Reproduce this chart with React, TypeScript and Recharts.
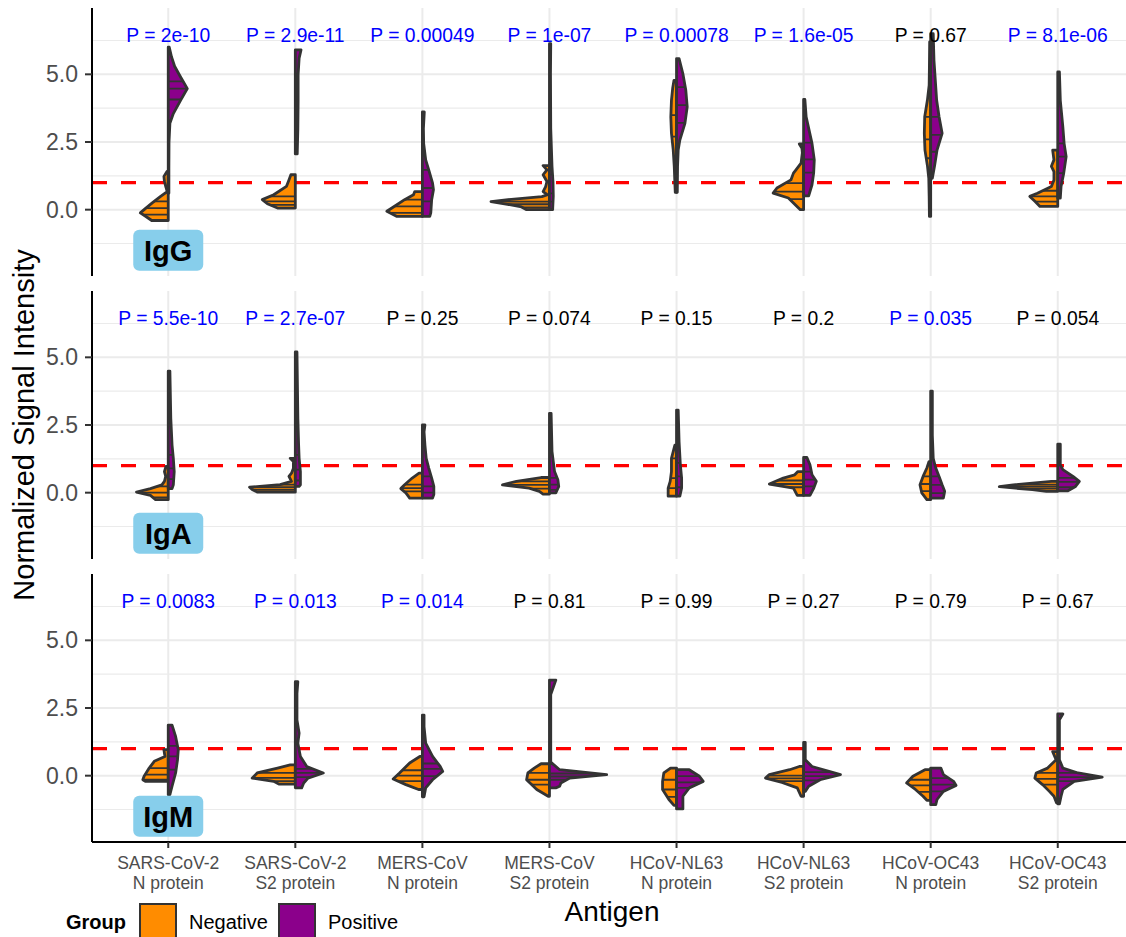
import { CartesianGrid, ReferenceLine, Scatter, ScatterChart, XAxis, YAxis } from 'recharts';

const antigenVirus = ['SARS-CoV-2', 'SARS-CoV-2', 'MERS-CoV', 'MERS-CoV', 'HCoV-NL63', 'HCoV-NL63', 'HCoV-OC43', 'HCoV-OC43'];
const antigenProtein = ['N protein', 'S2 protein', 'N protein', 'S2 protein', 'N protein', 'S2 protein', 'N protein', 'S2 protein'];
const antigenPositions = [1, 2, 3, 4, 5, 6, 7, 8];

const iggP = ['2e-10', '2.9e-11', '0.00049', '1e-07', '0.00078', '1.6e-05', '0.67', '8.1e-06'];
const igaP = ['5.5e-10', '2.7e-07', '0.25', '0.074', '0.15', '0.2', '0.035', '0.054'];
const igmP = ['0.0083', '0.013', '0.014', '0.81', '0.99', '0.27', '0.79', '0.67'];

// half-violin outlines: [signal, half width in antigen units], bottom to top
const iggNegative = [
  [[-0.4, 0.13], [-0.27, 0.17], [-0.12, 0.22], [0, 0.19], [0.25, 0.126], [0.49, 0.06], [0.67, 0.008], [0.86, 0.02], [1.05, 0.03], [1.23, 0.034], [1.41, 0.01]],
  [[0.06, 0.14], [0.22, 0.22], [0.37, 0.26], [0.55, 0.17], [0.86, 0.07], [1.1, 0.05], [1.29, 0.035]],
  [[-0.25, 0.2], [-0.06, 0.28], [0.06, 0.24], [0.37, 0.14], [0.55, 0.07], [0.67, 0.06]],
  [[0, 0.18], [0.1, 0.22], [0.2, 0.33], [0.3, 0.46], [0.38, 0.3], [0.48, 0.06], [0.55, 0.015], [0.67, 0.05], [0.85, 0.03], [1.04, 0.02], [1.29, 0.05], [1.47, 0.02], [1.63, 0.05]],
  [[0.64, 0.01], [0.98, 0.013], [1.6, 0.018], [2.2, 0.026], [2.82, 0.04], [3.43, 0.045], [4.04, 0.04], [4.5, 0.03], [4.78, 0.02]],
  [[0, 0.026], [0.25, 0.08], [0.43, 0.12], [0.61, 0.24], [0.8, 0.21], [1.1, 0.1], [1.35, 0.08], [1.47, 0.06], [1.72, 0.02], [2.1, 0.01], [2.27, 0.013], [2.43, 0.034]],
  [[-0.25, 0.01], [0.5, 0.012], [1.16, 0.015], [1.6, 0.025], [2.2, 0.045], [2.82, 0.05], [3.43, 0.047], [4.04, 0.026], [4.6, 0.012], [5.27, 0.01], [6.2, 0.008]],
  [[0.12, 0.14], [0.31, 0.18], [0.49, 0.22], [0.61, 0.16], [0.86, 0.05], [1.1, 0.03], [1.41, 0.03], [1.6, 0.05], [1.84, 0.03], [2.2, 0.04]],
];
const iggPositive = [
  [[0.61, 0.005], [1.5, 0.005], [2.5, 0.006], [3.19, 0.013], [3.55, 0.04], [4.04, 0.097], [4.47, 0.15], [4.9, 0.097], [5.3, 0.05], [5.64, 0.026], [6.0, 0.008]],
  [[2.06, 0.015], [3.0, 0.02], [4.0, 0.022], [5.0, 0.022], [5.6, 0.03], [5.9, 0.045]],
  [[-0.25, 0.058], [-0.12, 0.066], [0.37, 0.073], [0.74, 0.087], [0.98, 0.08], [1.47, 0.05], [1.84, 0.026], [2.45, 0.01], [3.0, 0.008], [3.61, 0.015]],
  [[0, 0.025], [0.5, 0.03], [1.0, 0.028], [1.6, 0.02], [3.0, 0.01], [5.0, 0.008], [6.13, 0.01]],
  [[0.64, 0.006], [1.6, 0.008], [2.2, 0.013], [2.57, 0.026], [3.19, 0.066], [3.8, 0.084], [4.41, 0.073], [5.02, 0.05], [5.58, 0.02]],
  [[0.51, 0.04], [0.92, 0.066], [1.35, 0.079], [1.84, 0.084], [2.45, 0.066], [3.43, 0.02], [4.07, 0.01]],
  [[1.16, 0.013], [1.6, 0.03], [2.2, 0.05], [2.82, 0.09], [3.43, 0.066], [4.04, 0.047], [5.51, 0.026], [6.5, 0.02]],
  [[0.43, 0.02], [0.86, 0.026], [1.35, 0.047], [1.96, 0.066], [2.45, 0.05], [3.06, 0.04], [4.04, 0.02], [5.09, 0.013]],
];
const igaNegative = [
  [[-0.26, 0.1], [-0.1, 0.14], [0.02, 0.25], [0.15, 0.14], [0.29, 0.05], [0.42, 0.03], [0.6, 0.02], [0.78, 0.03], [0.97, 0.018]],
  [[0.02, 0.3], [0.12, 0.34], [0.2, 0.36], [0.3, 0.12], [0.42, 0.03], [0.6, 0.05], [0.72, 0.03], [0.9, 0.015], [1.15, 0.015], [1.27, 0.04]],
  [[-0.2, 0.1], [-0.01, 0.13], [0.15, 0.17], [0.29, 0.14], [0.54, 0.08], [0.72, 0.026]],
  [[-0.05, 0.05], [0.05, 0.08], [0.17, 0.16], [0.29, 0.37], [0.42, 0.26], [0.56, 0.066]],
  [[-0.13, 0.066], [0.17, 0.066], [0.42, 0.05], [0.78, 0.04], [1.27, 0.04], [1.76, 0.013]],
  [[-0.1, 0.05], [0.17, 0.08], [0.32, 0.27], [0.54, 0.16], [0.66, 0.07], [0.78, 0.045]],
  [[-0.26, 0.03], [-0.01, 0.07], [0.29, 0.084], [0.6, 0.06], [0.91, 0.03], [1.15, 0.013]],
  [[0.05, 0.09], [0.11, 0.2], [0.22, 0.46], [0.29, 0.35], [0.42, 0.05]],
];
const igaPositive = [
  [[0.15, 0.03], [0.29, 0.04], [0.78, 0.047], [1.27, 0.04], [1.76, 0.03], [2.75, 0.02], [4.49, 0.013]],
  [[0.23, 0.03], [0.29, 0.04], [0.78, 0.04], [1.27, 0.03], [1.76, 0.026], [2.75, 0.02], [5.2, 0.013]],
  [[-0.2, 0.08], [-0.07, 0.09], [0.23, 0.09], [0.54, 0.073], [0.91, 0.05], [1.27, 0.03], [1.76, 0.02], [2.25, 0.013], [2.5, 0.02]],
  [[-0.01, 0.05], [0.23, 0.073], [0.48, 0.066], [0.78, 0.04], [1.52, 0.02], [2.93, 0.013]],
  [[-0.13, 0.026], [0.17, 0.04], [0.54, 0.04], [1.03, 0.03], [1.89, 0.02], [3.05, 0.013]],
  [[-0.1, 0.05], [0.17, 0.08], [0.42, 0.1], [0.66, 0.066], [1.03, 0.05], [1.3, 0.026]],
  [[-0.2, 0.1], [0.05, 0.11], [0.29, 0.09], [0.6, 0.066], [0.91, 0.04], [1.27, 0.02], [2.13, 0.013], [3.75, 0.013]],
  [[0.07, 0.08], [0.23, 0.14], [0.42, 0.17], [0.6, 0.12], [0.85, 0.04], [1.03, 0.02], [1.79, 0.02]],
];
const igmNegative = [
  [[-0.21, 0.18], [-0.15, 0.2], [-0.02, 0.19], [0.28, 0.15], [0.53, 0.11], [0.71, 0.026], [0.96, 0.034]],
  [[-0.31, 0.13], [-0.21, 0.17], [-0.09, 0.34], [0.1, 0.3], [0.28, 0.14], [0.4, 0.04]],
  [[-0.51, 0.03], [-0.33, 0.13], [-0.12, 0.23], [0.1, 0.18], [0.47, 0.1], [0.71, 0.02]],
  [[-0.76, 0.01], [-0.51, 0.1], [-0.15, 0.18], [0.1, 0.17], [0.28, 0.12], [0.44, 0.066]],
  [[-1.1, 0.02], [-0.88, 0.06], [-0.51, 0.11], [-0.21, 0.11], [0.1, 0.1], [0.28, 0.047]],
  [[-0.76, 0.02], [-0.45, 0.05], [-0.25, 0.17], [-0.09, 0.3], [0.04, 0.27], [0.22, 0.11], [0.34, 0.034]],
  [[-0.91, 0.03], [-0.76, 0.06], [-0.51, 0.12], [-0.27, 0.19], [-0.02, 0.14], [0.22, 0.045]],
  [[-1.0, 0.01], [-0.76, 0.03], [-0.58, 0.066], [-0.33, 0.12], [-0.09, 0.18], [0.1, 0.17], [0.28, 0.08], [0.59, 0.013], [0.89, 0.04]],
];
const igmPositive = [
  [[-0.7, 0.013], [-0.39, 0.03], [0.1, 0.058], [0.59, 0.073], [0.96, 0.079], [1.45, 0.058], [1.87, 0.03]],
  [[-0.45, 0.05], [-0.27, 0.066], [-0.09, 0.1], [0.1, 0.22], [0.34, 0.09], [0.71, 0.04], [1.2, 0.02], [1.57, 0.03], [2.06, 0.013], [3.04, 0.013], [3.47, 0.02]],
  [[-0.78, 0.013], [-0.45, 0.026], [-0.15, 0.08], [0.16, 0.16], [0.34, 0.14], [0.71, 0.08], [1.2, 0.026], [1.81, 0.013], [2.24, 0.013]],
  [[-0.45, 0.05], [-0.39, 0.08], [-0.27, 0.09], [-0.09, 0.16], [0.04, 0.45], [0.22, 0.08], [0.5, 0.01], [3.0, 0.01], [3.53, 0.05]],
  [[-1.23, 0.05], [-0.76, 0.05], [-0.45, 0.1], [-0.21, 0.21], [-0.02, 0.18], [0.22, 0.1]],
  [[-0.58, 0.013], [-0.39, 0.04], [-0.15, 0.13], [0.04, 0.29], [0.16, 0.2], [0.34, 0.066], [0.59, 0.013], [1.23, 0.013]],
  [[-1.07, 0.04], [-0.88, 0.05], [-0.58, 0.1], [-0.36, 0.2], [-0.21, 0.18], [0.04, 0.1], [0.28, 0.08]],
  [[-1.04, 0.013], [-0.76, 0.026], [-0.51, 0.04], [-0.21, 0.13], [-0.05, 0.35], [0.1, 0.16], [0.28, 0.04], [0.59, 0.013], [2.06, 0.013], [2.28, 0.04]],
];

// 25/50/75% lines drawn inside each half
const iggNegativeQuartiles = [[-0.18, 0.06, 0.31], [0.18, 0.31, 0.49], [-0.12, 0.12, 0.37], [0.08, 0.2, 0.3], [1.84, 2.7, 3.49], [0.39, 0.67, 0.98], [1.9, 2.6, 3.43], [0.3, 0.49, 0.7]];
const iggPositiveQuartiles = [[4.07, 4.47, 4.74], [3.25, 4.29, 5.02], [0.31, 0.8, 1.47], [0.3, 0.6, 1.3], [3.21, 3.86, 4.53], [1.37, 1.86, 2.48], [2.14, 2.76, 3.43], [1.35, 1.96, 2.45]];
const igaNegativeQuartiles = [[-0.17, 0, 0.23], [0.1, 0.2, 0.3], [0.05, 0.17, 0.3], [0.15, 0.29, 0.42], [0.17, 0.54, 1.27], [0.2, 0.32, 0.45], [0.06, 0.32, 0.6], [0.15, 0.22, 0.3]];
const igaPositiveQuartiles = [[0.5, 0.9, 1.4], [0.45, 0.85, 1.4], [0, 0.23, 0.6], [0.1, 0.3, 0.55], [0.2, 0.6, 1.1], [0.23, 0.48, 0.78], [-0.02, 0.29, 0.6], [0.2, 0.4, 0.55]];
const igmNegativeQuartiles = [[-0.15, 0.04, 0.28], [-0.2, -0.08, 0.1], [-0.2, 0, 0.2], [-0.33, -0.15, 0.1], [-0.78, -0.51, -0.15], [-0.2, -0.1, 0], [-0.6, -0.36, -0.15], [-0.33, -0.12, 0.1]];
const igmPositiveQuartiles = [[0.22, 0.71, 1.1], [-0.05, 0.1, 0.25], [-0.02, 0.25, 0.45], [-0.15, -0.03, 0.08], [-0.45, -0.25, -0.02], [-0.17, -0.02, 0.13], [-0.58, -0.33, -0.09], [-0.2, -0.05, 0.1]];

const panels = [
  { name: 'IgG', top: 8, neg: iggNegative, pos: iggPositive, negQ: iggNegativeQuartiles, posQ: iggPositiveQuartiles, p: iggP },
  { name: 'IgA', top: 291, neg: igaNegative, pos: igaPositive, negQ: igaNegativeQuartiles, posQ: igaPositiveQuartiles, p: igaP },
  { name: 'IgM', top: 574, neg: igmNegative, pos: igmPositive, negQ: igmNegativeQuartiles, posQ: igmPositiveQuartiles, p: igmP },
];

const NEG = '#FF8C00';
const POS = '#8B008B';
const FONT = '"Liberation Sans", Arial, sans-serif';

function halfRows(center: number, side: number, outline: number[][], quartiles: number[]) {
  const rows = [{ x: center, y: outline[0][0] }];
  outline.forEach(([v, w]) => rows.push({ x: center + side * w, y: v }));
  rows.push({ x: center, y: outline[outline.length - 1][0] });
  quartiles.forEach((q) => {
    rows.push({ x: center, y: q });
    rows.push({ x: center + side * 0.6, y: q });
  });
  return rows;
}

const violinLine = (clipId: string, nOutline: number, fill: string) => (props: any) => {
  const pts = props.points || [];
  const outline = pts.slice(0, nOutline);
  const d = outline.map((p: any, i: number) => `${i ? 'L' : 'M'}${p.x},${p.y}`).join('') + 'Z';
  const quart = pts.slice(nOutline);
  const segs = [];
  for (let i = 0; i + 1 < quart.length; i += 2) {
    segs.push(<line key={i} x1={quart[i].x} y1={quart[i].y} x2={quart[i + 1].x} y2={quart[i + 1].y} />);
  }
  return (
    <g>
      <defs>
        <clipPath id={clipId}>
          <path d={d} />
        </clipPath>
      </defs>
      <path d={d} fill={fill} stroke="none" />
      <g clipPath={`url(#${clipId})`} stroke="#333333" strokeWidth={1.8}>
        {segs}
      </g>
      <path d={d} fill="none" stroke="#333333" strokeWidth={2.8} strokeLinejoin="round" />
    </g>
  );
};

const noPoint = () => <g />;

const PText = (props: any) => {
  const { cx, cy, payload } = props;
  const sig = parseFloat(payload.p) < 0.05;
  return (
    <text x={cx} y={cy} dy="0.3em" textAnchor="middle" fontSize={19.3} fontFamily={FONT} fill={sig ? '#0000FF' : '#000000'}>
      {`P = ${payload.p}`}
    </text>
  );
};

const IsotypeTag = (props: any) => {
  const { cx, cy, payload } = props;
  return (
    <g>
      <rect x={cx - 35} y={cy - 20.5} width={70} height={41} rx={6} fill="#87CEEB" />
      <text x={cx} y={cy} dy="0.36em" textAnchor="middle" fontSize={29} fontWeight="bold" fontFamily={FONT} fill="#000">
        {payload.name}
      </text>
    </g>
  );
};

const AntigenTick = (props: any) => {
  const { x, y, payload } = props;
  const i = Math.round(payload.value) - 1;
  return (
    <g>
      <text x={x} y={y + 19} textAnchor="middle" fill="#4D4D4D" fontSize={17.5} fontFamily={FONT}>
        {antigenVirus[i]}
      </text>
      <text x={x} y={y + 39} textAnchor="middle" fill="#4D4D4D" fontSize={17.5} fontFamily={FONT}>
        {antigenProtein[i]}
      </text>
    </g>
  );
};

function Panel({ panel, last }: { panel: (typeof panels)[number]; last: boolean }) {
  const pRows = panel.p.map((p, i) => ({ x: antigenPositions[i], y: 6.4, p }));
  const tagRows = [{ x: 1, y: -1.5, name: panel.name }];
  return (
    <div style={{ position: 'absolute', left: 0, top: panel.top }}>
      <ScatterChart width={1134} height={last ? 328 : 268} margin={{ top: 0, right: 0, bottom: 0, left: 0 }}>
        <CartesianGrid horizontalValues={[-1.25, 1.25, 3.75, 6.25]} vertical={false} stroke="#EBEBEB" strokeWidth={1.1} />
        <CartesianGrid horizontalValues={[0, 2.5, 5]} verticalValues={antigenPositions} stroke="#EBEBEB" strokeWidth={2} />
        <XAxis
          type="number"
          dataKey="x"
          domain={[0.4, 8.6]}
          ticks={antigenPositions}
          allowDataOverflow
          hide={!last}
          height={60}
          tickSize={6}
          tickMargin={2}
          tick={<AntigenTick />}
          axisLine={{ stroke: '#000', strokeWidth: 2 }}
          tickLine={{ stroke: '#333', strokeWidth: 2 }}
        />
        <YAxis
          type="number"
          dataKey="y"
          domain={[-2.45, 7.45]}
          ticks={[0, 2.5, 5]}
          allowDataOverflow
          width={92}
          tickSize={7}
          tickMargin={7}
          tickFormatter={(v: number) => v.toFixed(1)}
          tick={{ fill: '#4D4D4D', fontSize: 23, fontFamily: FONT }}
          axisLine={{ stroke: '#000', strokeWidth: 2 }}
          tickLine={{ stroke: '#333', strokeWidth: 2 }}
        />
        {antigenPositions.map((c, i) => [
          <Scatter
            key={`n${i}`}
            data={halfRows(c, -1, panel.neg[i], panel.negQ[i])}
            shape={noPoint}
            line={violinLine(`clip-${panel.name}-n${i}`, panel.neg[i].length + 2, NEG)}
            fill={NEG}
            isAnimationActive={false}
          />,
          <Scatter
            key={`p${i}`}
            data={halfRows(c, 1, panel.pos[i], panel.posQ[i])}
            shape={noPoint}
            line={violinLine(`clip-${panel.name}-p${i}`, panel.pos[i].length + 2, POS)}
            fill={POS}
            isAnimationActive={false}
          />,
        ])}
        <ReferenceLine y={1} stroke="#FF0000" strokeWidth={3.4} strokeDasharray="15 14" />
        <Scatter data={pRows} shape={PText} isAnimationActive={false} />
        <Scatter data={tagRows} shape={IsotypeTag} isAnimationActive={false} />
      </ScatterChart>
    </div>
  );
}

export default function App() {
  return (
    <div
      style={{
        position: 'absolute',
        left: 0,
        top: 0,
        width: 1126,
        height: 937,
        overflow: 'hidden',
        background: '#fff',
        fontFamily: FONT,
      }}
    >
      {panels.map((p, i) => (
        <Panel key={p.name} panel={p} last={i === panels.length - 1} />
      ))}
      <svg width={1126} height={937} style={{ position: 'absolute', left: 0, top: 0, pointerEvents: 'none' }} fontFamily={FONT}>
        <text x={24} y={425} dy="0.35em" textAnchor="middle" fontSize={29} transform="rotate(-90 24 425)" fill="#000">
          Normalized Signal Intensity
        </text>
        <text x={612} y={911} dy="0.35em" textAnchor="middle" fontSize={28} fill="#000">
          Antigen
        </text>
        <text x={66} y={922} dy="0.35em" fontSize={20} fontWeight="bold" fill="#000">
          Group
        </text>
        <rect x={140} y={904} width={36} height={36} fill={NEG} stroke="#333" strokeWidth={2} />
        <text x={189} y={922} dy="0.35em" fontSize={20} fill="#000">
          Negative
        </text>
        <rect x={279} y={904} width={36} height={36} fill={POS} stroke="#333" strokeWidth={2} />
        <text x={328} y={922} dy="0.35em" fontSize={20} fill="#000">
          Positive
        </text>
      </svg>
    </div>
  );
}
